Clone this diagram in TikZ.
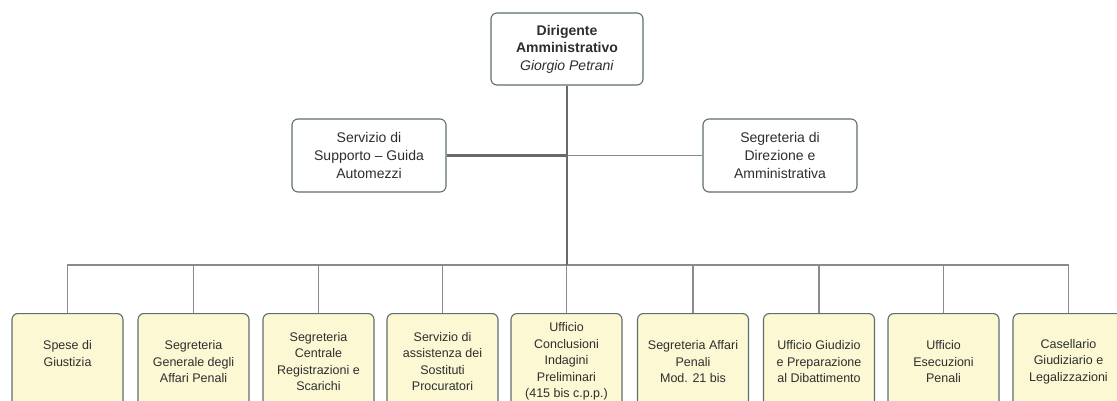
\documentclass[tikz,border=0pt]{standalone}
\usepackage{fontspec}
\setmainfont{Liberation Sans}
\definecolor{boxline}{HTML}{5F6E6E}
\definecolor{boxfill}{HTML}{FBF8D3}
\definecolor{txt}{HTML}{2E2E2E}
\definecolor{trunk}{HTML}{6A6A6A}
\definecolor{bus}{HTML}{8A8A8A}
\tikzset{
  topbox/.style={draw=boxline, line width=1.1pt, rounded corners=6pt, fill=white,
    minimum width=152pt, minimum height=72pt, inner sep=0pt, align=center, text=txt,
    font=\fontsize{14}{17.5}\selectfont},
  midbox/.style={draw=boxline, line width=1.1pt, rounded corners=6pt, fill=white,
    minimum width=154pt, minimum height=73pt, inner sep=0pt, align=center, text=txt,
    font=\fontsize{14}{18}\selectfont},
  unitbox/.style={draw=boxline, line width=1.1pt, rounded corners=6pt, fill=boxfill,
    minimum width=111pt, minimum height=96pt, inner sep=0pt, align=center, text=txt,
    anchor=north, font=\fontsize{12.5}{16.5}\selectfont},
  trunkline/.style={draw=trunk, line width=2.8pt},
  busline/.style={draw=bus, line width=1.9pt},
}
\begin{document}
\begin{tikzpicture}[x=1pt,y=-1pt]
\useasboundingbox (0,0) rectangle (1117,401);
\fill[white] (0,0) rectangle (1117,401);
\clip (0,0) rectangle (1117,401);
\coordinate (busy) at (0,265);
% nodes
\node[topbox] (top) at (567,49) {\textbf{Dirigente}\\\textbf{Amministrativo}\\\textit{Giorgio Petrani}};
\node[midbox] (sl) at (369,155.5) {Servizio di\\Supporto – Guida\\Automezzi};
\node[midbox] (sr) at (780,155.5) {Segreteria di\\Direzione e\\Amministrativa};
\node[unitbox] (b1) at (67.5,313) {Spese di\\Giustizia\\\mbox{}};
\node[unitbox] (b2) at (193.5,313) {Segreteria\\Generale degli\\Affari Penali};
\node[unitbox] (b3) at (318.5,313) {Segreteria\\Centrale\\Registrazioni e\\Scarichi};
\node[unitbox] (b4) at (442.5,313) {Servizio di\\assistenza dei\\Sostituti\\Procuratori};
\node[unitbox] (b5) at (566.5,313) {Ufficio\\Conclusioni\\Indagini\\Preliminari\\(415 bis c.p.p.)};
\node[unitbox] (b6) at (693,313) {Segreteria Affari\\Penali\\Mod. 21 bis};
\node[unitbox] (b7) at (819,313) {Ufficio Giudizio\\e Preparazione\\al Dibattimento};
\node[unitbox] (b8) at (943.5,313) {Ufficio\\Esecuzioni\\Penali};
\node[unitbox] (b9) at (1068.5,313) {Casellario\\Giudiziario e\\Legalizzazioni};
% connectors
\draw[busline] (b1.north) -- (b1.north |- busy) -- (b9.north |- busy) -- (b9.north);
\foreach \n in {b2,b3,b4,b5,b6,b7,b8}
  \draw[busline] (\n.north) -- (\n.north |- busy);
\draw[busline] (sr.west) -- (sr.west -| top.south);
\draw[trunkline] (sl.east) -- (sl.east -| top.south);
\draw[trunkline] (top.south) -- (top.south |- busy);
\end{tikzpicture}
\end{document}
